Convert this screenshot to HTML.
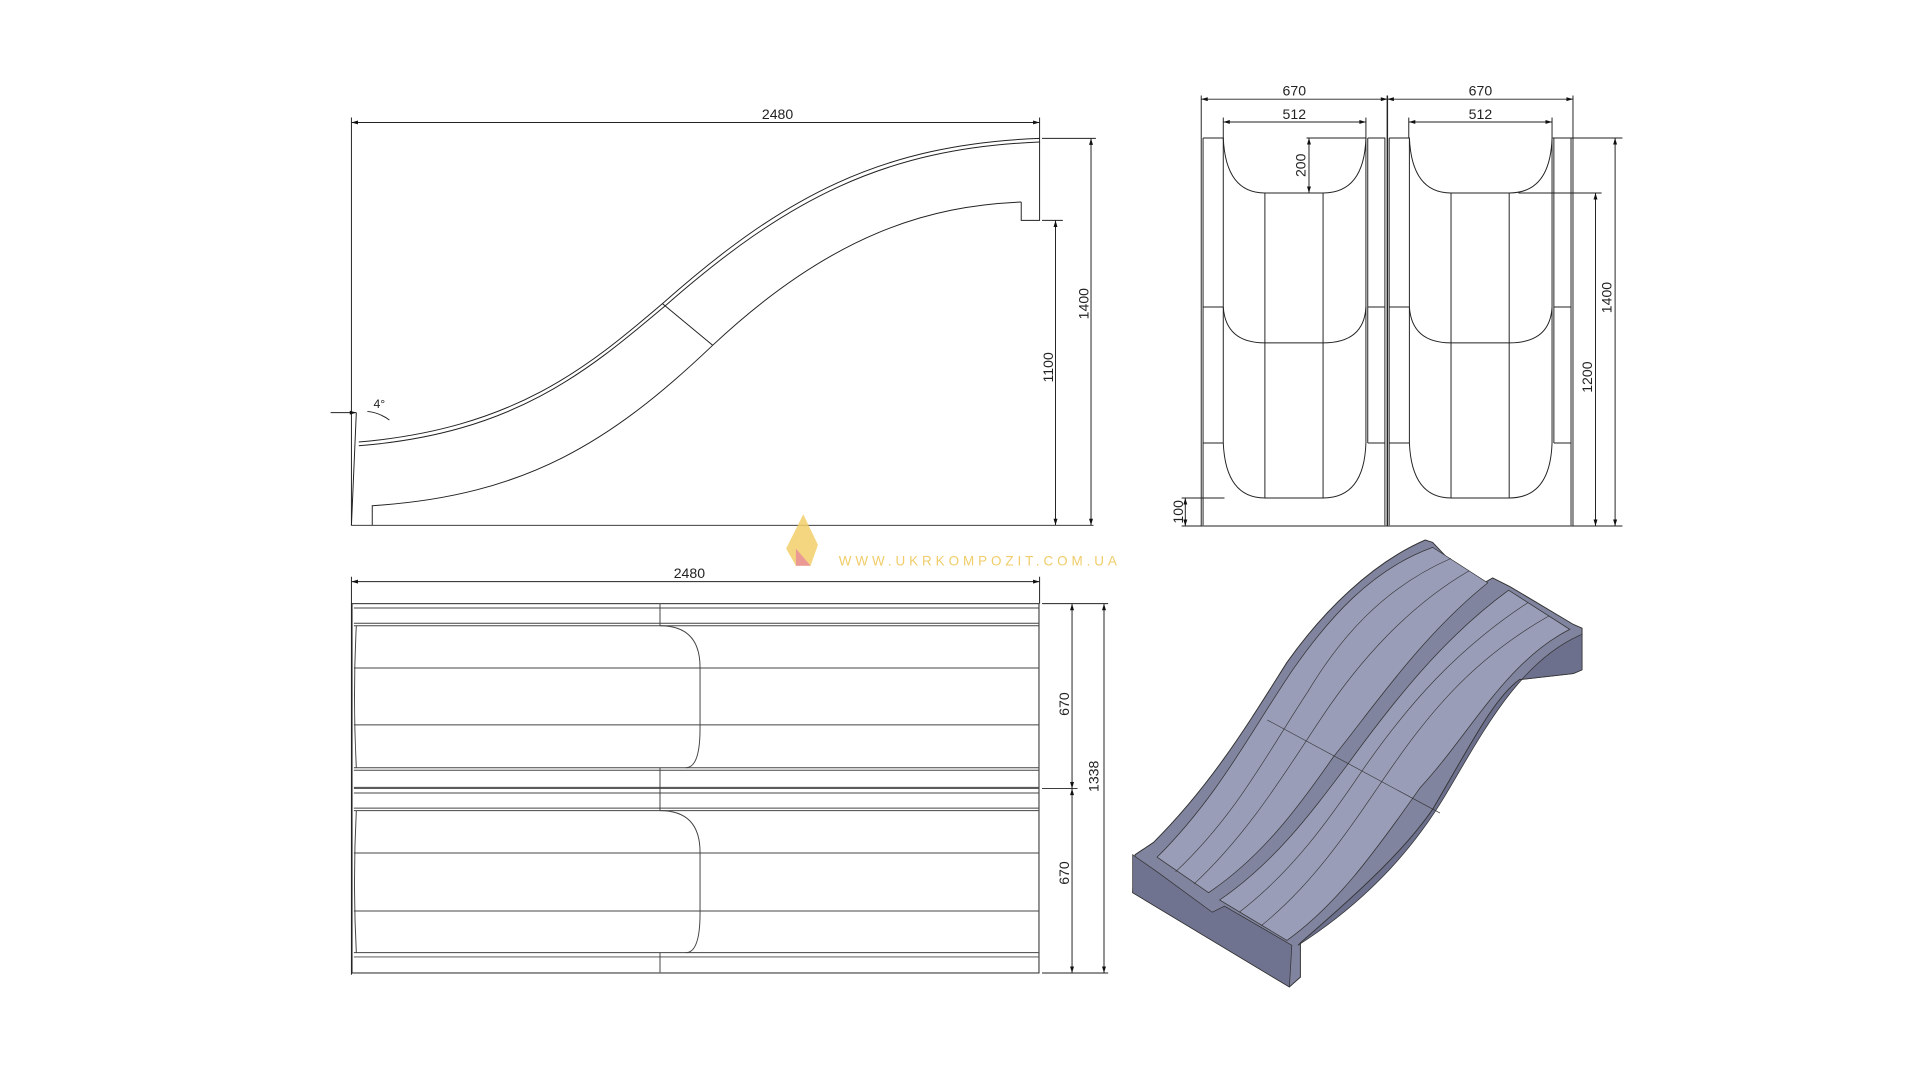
<!DOCTYPE html>
<html><head><meta charset="utf-8"><style>
html,body{margin:0;padding:0;background:#fff;width:1920px;height:1080px;overflow:hidden}
svg{display:block}
text{font-family:"Liberation Sans",sans-serif;fill:#222}
</style></head><body>
<svg width="1920" height="1080" viewBox="0 0 1568 882" preserveAspectRatio="none" xmlns="http://www.w3.org/2000/svg">
<defs>
<marker id="a" viewBox="0 0 10 6" refX="10" refY="3" markerWidth="8" markerHeight="4" orient="auto-start-reverse"><path d="M0,0L10,3L0,6z" fill="#111"/></marker>
</defs>
<g fill="none" stroke="#222" stroke-width="0.8">
<!-- SIDE VIEW -->
<line x1="287" y1="100" x2="849" y2="100" marker-start="url(#a)" marker-end="url(#a)"/>
<line x1="287" y1="96" x2="287" y2="429"/>
<line x1="849" y1="96" x2="849" y2="113"/>
<path d="M291,337 L287,429 L893,429"/>
<path d="M293,361 C420,350 480,300 541,248 C640,160 720,118 849,113 L849,180 L834,180 L834,165"/>
<path d="M293,364 C420,354 480,303 543,250 C642,163 722,121 849,116"/>
<path d="M834,165 C760,168 680,190 582,282 C500,360 430,405 304,413 L304,429"/>
<line x1="541" y1="248" x2="582" y2="282"/>
<line x1="851" y1="113" x2="895" y2="113"/>
<line x1="851" y1="180" x2="868" y2="180"/>
<line x1="891" y1="113" x2="891" y2="429" marker-start="url(#a)" marker-end="url(#a)"/>
<line x1="862" y1="180" x2="862" y2="429" marker-start="url(#a)" marker-end="url(#a)"/>
<path d="M270,337 L291,337" marker-end="url(#a)"/>
<path d="M300,336 Q310,337 318,343"/>

<!-- FRONT VIEW -->
<line x1="981" y1="81" x2="1133" y2="81" marker-start="url(#a)" marker-end="url(#a)"/>
<line x1="1133" y1="81" x2="1284.6" y2="81" marker-start="url(#a)" marker-end="url(#a)"/>
<line x1="999" y1="99.6" x2="1115.5" y2="99.6" marker-start="url(#a)" marker-end="url(#a)"/>
<line x1="1150.5" y1="99.6" x2="1267.5" y2="99.6" marker-start="url(#a)" marker-end="url(#a)"/>
<line x1="981" y1="78" x2="981" y2="429.6"/>
<line x1="1133" y1="78" x2="1133" y2="429.6" stroke-width="1.2"/>
<line x1="1284.6" y1="78" x2="1284.6" y2="429.6"/>
<line x1="999" y1="96" x2="999" y2="112.7"/>
<line x1="1115.5" y1="96" x2="1115.5" y2="112.7"/>
<line x1="1150.5" y1="96" x2="1150.5" y2="112.7"/>
<line x1="1267.5" y1="96" x2="1267.5" y2="112.7"/>
<line x1="965" y1="429.6" x2="1325" y2="429.6"/>
<g id="lane">
<path d="M982.5,112.7 L999,112.7 L999,361.8 M982.5,112.7 L982.5,429"/>
<path d="M1117,112.7 L1131,112.7 L1131,429 M1117,112.7 L1117,361.8"/>
<path d="M982.5,250.7 L999,250.7 M1117,250.7 L1131,250.7 M982.5,361.8 L999,361.8 M1117,361.8 L1131,361.8"/>
<path d="M999,112.7 Q1001,157.6 1033,157.6 L1080.5,157.6 Q1114,157.6 1115.5,112.7 L1115.5,361.8"/>
<path d="M999,250.7 Q1001,280 1033,280 L1080.5,280 Q1114,280 1115.5,250.7"/>
<path d="M999,361.8 Q1001,406.7 1033,406.7 L1080.5,406.7 Q1114,406.7 1115.5,361.8"/>
<line x1="1033" y1="157.6" x2="1033" y2="406.7"/>
<line x1="1080.5" y1="157.6" x2="1080.5" y2="406.7"/>
</g>
<use href="#lane" transform="translate(152,0)"/>
<line x1="1069" y1="112.7" x2="1069" y2="157.6" marker-start="url(#a)" marker-end="url(#a)"/>
<line x1="1067" y1="112.7" x2="1116" y2="112.7"/>
<line x1="1268" y1="112.7" x2="1325" y2="112.7"/>
<line x1="1240" y1="157.6" x2="1308" y2="157.6"/>
<line x1="1303" y1="157.6" x2="1303" y2="429.6" marker-start="url(#a)" marker-end="url(#a)"/>
<line x1="1319" y1="112.7" x2="1319" y2="429.6" marker-start="url(#a)" marker-end="url(#a)"/>
<line x1="965" y1="406.7" x2="1000" y2="406.7"/>
<line x1="968" y1="406.7" x2="968" y2="429.6" marker-start="url(#a)" marker-end="url(#a)"/>

<!-- TOP VIEW -->
<line x1="287" y1="475" x2="849" y2="475" marker-start="url(#a)" marker-end="url(#a)"/>
<line x1="287" y1="471" x2="287" y2="796"/>
<line x1="849" y1="471" x2="849" y2="493"/>
<rect x="287.5" y="493" width="561" height="301.6"/>
<g stroke="#444">
<path d="M289,496.5H848M289,509H848M289,511H848M289,545.5H848M289,592H848M289,627H848M289,629H848M289,643H848M289,644H848M289,647.6H848M289,660H848M289,662H848M289,696.6H848M289,744H848M289,778H848M289,781.5H848"/>
<path d="M539,493V511M539,627V662M539,778V794"/>
<path d="M539,511 Q571.7,511 571.7,545 L571.7,595 Q571.7,627 560,627"/>
<path d="M539,662 Q571.7,662 571.7,696 L571.7,746 Q571.7,778 560,778"/>
<path d="M291,511 Q288,568 291,627 M291,662 Q288,720 291,778"/>
</g>
<line x1="851" y1="493" x2="905" y2="493"/>
<line x1="851" y1="794.6" x2="905" y2="794.6"/>
<line x1="851" y1="644" x2="880" y2="644"/>
<line x1="875.5" y1="493" x2="875.5" y2="644" marker-start="url(#a)" marker-end="url(#a)"/>
<line x1="875.5" y1="644" x2="875.5" y2="794.6" marker-start="url(#a)" marker-end="url(#a)"/>
<line x1="901.6" y1="493" x2="901.6" y2="794.6" marker-start="url(#a)" marker-end="url(#a)"/>
</g>

<!-- labels -->
<g font-size="11.5">
<text x="635" y="97" text-anchor="middle">2480</text>
<text x="563" y="472" text-anchor="middle">2480</text>
<text x="1057" y="78" text-anchor="middle">670</text>
<text x="1209" y="78" text-anchor="middle">670</text>
<text x="1057" y="97" text-anchor="middle">512</text>
<text x="1209" y="97" text-anchor="middle">512</text>
<text x="305" y="333" font-size="10">4°</text>
<text transform="translate(889,248) rotate(-90)" text-anchor="middle">1400</text>
<text transform="translate(860,300) rotate(-90)" text-anchor="middle">1100</text>
<text transform="translate(1066,135) rotate(-90)" text-anchor="middle">200</text>
<text transform="translate(1316,243) rotate(-90)" text-anchor="middle">1400</text>
<text transform="translate(1300,308) rotate(-90)" text-anchor="middle">1200</text>
<text transform="translate(966,418) rotate(-90)" text-anchor="middle">100</text>
<text transform="translate(873,575) rotate(-90)" text-anchor="middle">670</text>
<text transform="translate(873,713) rotate(-90)" text-anchor="middle">670</text>
<text transform="translate(897,634) rotate(-90)" text-anchor="middle">1338</text>
</g>

<!-- watermark -->
<path d="M656,420 L668,445 L662,462 L650,462 L642,448 Z" fill="#f2cf6a" opacity="0.85"/>
<path d="M650,448 L662,462 L650,462 Z" fill="#e98a9a" opacity="0.8"/>
<text x="685" y="462" font-size="11" letter-spacing="3.2" style="fill:#f0cd6a">WWW.UKRKOMPOZIT.COM.UA</text>

<!-- 3D view -->
<path d="M927,698 L925,729 L1053,806 L1062,798 L1062,770 C1120,720 1150,690 1170,661 C1200,610 1220,570 1241,555 L1285,550 L1292,547 L1292,513 L1285,510 L1233,479 L1219,472 L1205,480 L1170,443 L1164,441 C1120,460 1080,500 1051,541 C1020,590 990,640 942,688 Z" fill="#80849f" stroke="#333" stroke-width="0.8"/>
<path d="M925,698 L925,729 L1053,806 L1055,772 L1000,740 L990,745 L945,712 Z" fill="#6f738f" stroke="#333" stroke-width="0.6"/>
<path d="M1062,770 C1120,720 1150,690 1170,661 C1200,610 1220,570 1241,555 L1285,550 L1292,547 L1292,518 C1240,540 1210,600 1180,650 C1150,700 1110,740 1060,772 Z" fill="#6c708d" stroke="#333" stroke-width="0.6"/>
<path d="M945,700 C995,650 1020,600 1055,548 C1085,505 1120,465 1170,447 L1215,476 C1160,520 1120,580 1089,618 C1060,660 1030,700 987,729 Z" fill="#999db8" stroke="#333" stroke-width="0.6"/>
<path d="M996,735 C1040,705 1070,665 1100,625 C1140,570 1180,520 1232,482 L1282,514 C1230,540 1200,600 1160,643 C1120,700 1090,740 1051,768 Z" fill="#999db8" stroke="#333" stroke-width="0.6"/>
<g stroke="#333" stroke-width="0.5" fill="none">
<path d="M960,712 C1010,665 1035,615 1068,565 C1095,520 1130,480 1185,456"/>
<path d="M975,722 C1020,680 1050,630 1080,585 C1110,540 1150,495 1200,466"/>
<path d="M1012,745 C1055,712 1085,670 1112,630 C1150,575 1190,530 1248,492"/>
<path d="M1030,756 C1072,722 1100,680 1130,636 C1165,585 1200,540 1265,503"/>
<path d="M1035,588 L1176,664"/>
</g>
</svg>
</body></html>
